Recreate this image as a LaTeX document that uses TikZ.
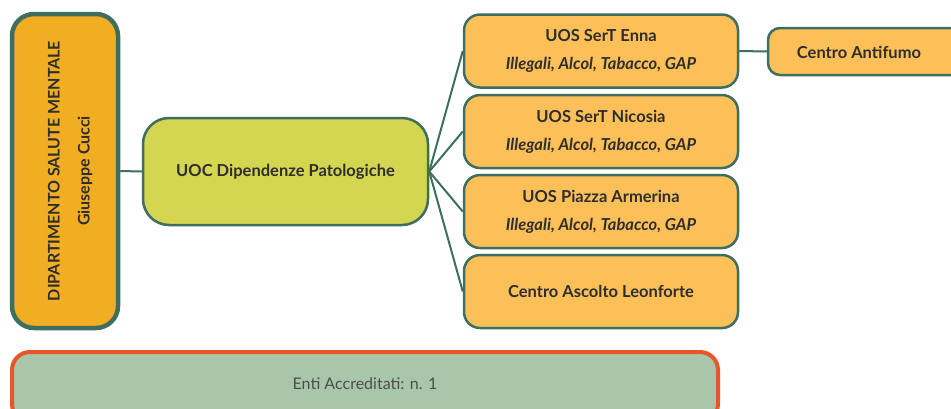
\documentclass[tikz,border=0pt]{standalone}
\usepackage{fontspec}
\setmainfont{Lato}
\definecolor{bordo}{HTML}{3E6E5F}
\definecolor{dipfill}{HTML}{F2AE22}
\definecolor{uocfill}{HTML}{D4D550}
\definecolor{uosfill}{HTML}{FDBF57}
\definecolor{entifill}{HTML}{A8C6A9}
\definecolor{entibordo}{HTML}{E8572A}
\definecolor{testo}{HTML}{2E2E2E}
\tikzset{
  box/.style={draw=bordo,line width=2.5pt,rounded corners=16pt,text=testo,
    font=\fontsize{16.5}{28}\selectfont\bfseries,align=center,inner sep=0pt},
  uos/.style={box,fill=uosfill,minimum width=274pt,minimum height=73pt},
  link/.style={draw=bordo,line width=2pt}
}
\begin{document}
\begin{tikzpicture}[x=1pt,y=-1pt]
\useasboundingbox (0,0) rectangle (951,408);
\clip (0,0) rectangle (951,408);

\node[box,fill=dipfill,line width=4.5pt,rounded corners=22pt,minimum width=106pt,minimum height=314pt] (dip) at (65,171) {};
\node[rotate=90,text=testo,font=\fontsize{16}{30}\selectfont\bfseries,align=center] (diptxt) at (70,171)
  {DIPARTIMENTO SALUTE MENTALE\\Giuseppe Cucci};

\node[box,fill=uocfill,rounded corners=26pt,minimum width=285pt,minimum height=107pt] (uoc) at (285.5,171.5) {UOC Dipendenze Patologiche};

\node[uos] (enna) at (601,51) {UOS SerT Enna\\\itshape Illegali, Alcol, Tabacco, GAP};
\node[uos] (nicosia) at (601,131.5) {UOS SerT Nicosia\\\itshape Illegali, Alcol, Tabacco, GAP};
\node[uos] (piazza) at (601,211.5) {UOS Piazza Armerina\\\itshape Illegali, Alcol, Tabacco, GAP};
\node[uos] (leonforte) at (601,291.5) {Centro Ascolto Leonforte};

% il riquadro esce dal margine destro
\node[box,fill=uosfill,rounded corners=12pt,minimum width=200pt,minimum height=47pt] (antifumo) at (868,51.5) {};
\node[text=testo,font=\fontsize{16.5}{20}\selectfont\bfseries] (antitxt) at (859,52) {Centro Antifumo};

\node[box,draw=entibordo,fill=entifill,line width=4pt,rounded corners=18pt,minimum width=706pt,minimum height=70pt] (enti) at (365,387) {};
\node[text=testo!85,font=\fontsize{16}{20}\selectfont] (entitxt) at (365,384) {Enti Accreditati: n. 1};

% collegamenti
\draw[link] (dip.east) -- (uoc.west);
\foreach \n in {enna,nicosia,piazza,leonforte}
  \draw[link] (uoc.east) -- (\n.west);
\draw[link] (enna.east) -- (antifumo.west);
\end{tikzpicture}
\end{document}
